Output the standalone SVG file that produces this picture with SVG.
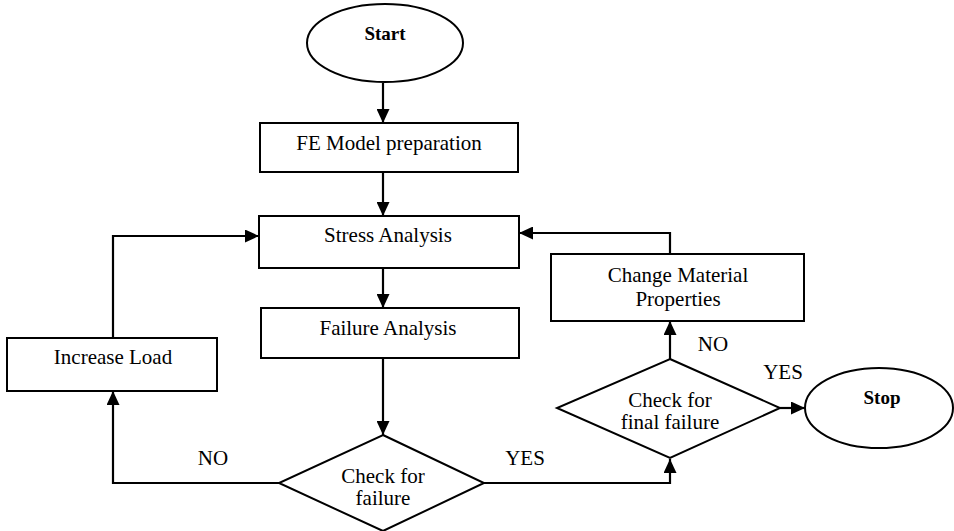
<svg xmlns="http://www.w3.org/2000/svg" width="954" height="531" viewBox="0 0 954 531" font-family="'Liberation Serif', 'DejaVu Serif', 'Times New Roman', serif">
<style>
.shape{fill:#fff;stroke:#000;stroke-width:2}
.line{fill:none;stroke:#000;stroke-width:2.2}
text{font-family:'Liberation Serif','DejaVu Serif','Times New Roman',serif;font-size:21px;fill:#000;text-anchor:middle}
.b{font-weight:bold;font-size:19px}
</style>
<defs>
<marker id="arr" markerWidth="14" markerHeight="13" refX="14" refY="6.5" orient="auto" markerUnits="userSpaceOnUse" viewBox="0 0 14 13">
<path d="M0,0 L14,6.5 L0,13 Z" fill="#000"/>
</marker>
</defs>
<rect width="954" height="531" fill="#fff"/>
<g id="connectors">
<path class="line" d="M383,83 V123" marker-end="url(#arr)"/>
<path class="line" d="M383,172 V216" marker-end="url(#arr)"/>
<path class="line" d="M383,268 V308" marker-end="url(#arr)"/>
<path class="line" d="M383,358 V435" marker-end="url(#arr)"/>
<path class="line" d="M279,483 H113 V391" marker-end="url(#arr)"/>
<path class="line" d="M113,338 V236 H259" marker-end="url(#arr)"/>
<path class="line" d="M484,483 H670 V459" marker-end="url(#arr)"/>
<path class="line" d="M670,359 V321" marker-end="url(#arr)"/>
<path class="line" d="M670,254 V233 H519" marker-end="url(#arr)"/>
<path class="line" d="M780,408 H805" marker-end="url(#arr)"/>
<text x="213" y="465">NO</text>
<text x="525" y="465">YES</text>
<text x="713" y="351">NO</text>
<text x="783" y="379">YES</text>
</g>
<g id="start">
<ellipse class="shape" cx="385" cy="43" rx="78" ry="39"/>
<text class="b" x="385" y="40">Start</text>
</g>
<g id="fe-model">
<rect class="shape" x="260" y="123" width="258" height="49"/>
<text x="389" y="150">FE Model preparation</text>
</g>
<g id="stress">
<rect class="shape" x="259" y="216" width="260" height="52"/>
<text x="388" y="242">Stress Analysis</text>
</g>
<g id="failure">
<rect class="shape" x="261" y="308" width="258" height="50"/>
<text x="388" y="335">Failure Analysis</text>
</g>
<g id="increase-load">
<rect class="shape" x="7" y="338" width="210" height="53"/>
<text x="113" y="364">Increase Load</text>
</g>
<g id="change-material">
<rect class="shape" x="551" y="254" width="253" height="67"/>
<text x="678" y="282">Change Material</text>
<text x="678" y="306">Properties</text>
</g>
<g id="check-failure">
<polygon class="shape" points="383,435 484,483 383,531 279,483"/>
<text x="383" y="483">Check for</text>
<text x="383" y="505">failure</text>
</g>
<g id="check-final">
<polygon class="shape" points="670,359 780,408 670,458 557,408"/>
<text x="670" y="407">Check for</text>
<text x="670" y="429">final failure</text>
</g>
<g id="stop">
<ellipse class="shape" cx="879" cy="408" rx="74" ry="40"/>
<text class="b" x="882" y="404">Stop</text>
</g>
</svg>
